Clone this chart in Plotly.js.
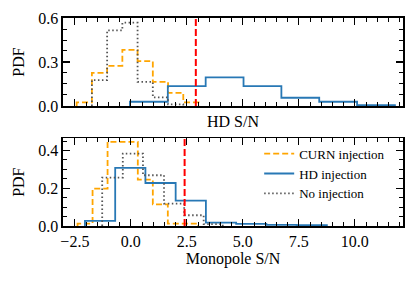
<!DOCTYPE html>
<html>
<head>
<meta charset="utf-8">
<script src="https://cdn.plot.ly/plotly-3.0.1.min.js"></script>
<style>html,body{margin:0;padding:0;background:#fff;}#chart{width:415px;height:283px;}</style>
</head>
<body>
<div id="chart"></div>
<script>
// ---- Top panel: HD S/N ----
const hdCurnEdges = [-2.42, -1.74, -1.06, -0.38, 0.30, 0.98, 1.66, 2.34, 3.02];
const hdCurnPdf   = [0.025, 0.226, 0.274, 0.383, 0.306, 0.165, 0.090, 0.025];
const hdNoEdges   = [-1.74, -1.06, -0.38, 0.30, 0.98, 1.66, 2.34];
const hdNoPdf     = [0.177, 0.516, 0.568, 0.165, 0.059, 0.011];
const hdHdEdges   = [-0.04, 1.65, 3.34, 5.03, 6.72, 8.41, 10.10, 11.79];
const hdHdPdf     = [0.029, 0.136, 0.195, 0.136, 0.056, 0.029, 0.005];
// ---- Bottom panel: Monopole S/N ----
const monoCurnEdges = [-2.38, -1.71, -1.04, -0.36, 0.31, 0.98, 1.65, 2.32, 3.00];
const monoCurnPdf   = [0.013, 0.198, 0.446, 0.446, 0.246, 0.115, 0.013, 0.013];
const monoNoEdges   = [-1.28, -0.36, 0.54, 1.48, 2.38, 3.25, 4.10];
const monoNoPdf     = [0.257, 0.384, 0.269, 0.119, 0.057, 0.010];
const monoHdEdges   = [-2.05, -0.70, 0.65, 2.00, 3.35, 4.70, 6.05, 7.40, 8.75];
const monoHdPdf     = [0.027, 0.308, 0.228, 0.135, 0.018, 0.011, 0.006, 0.004];
// observed S/N (red dashed lines): [HD, Monopole]
const observedSN = [2.9, 2.4];

const seriesNames = ['CURN injection', 'HD injection', 'No injection'];
const colors = {curn: '#FFA500', hd: '#2878B5', no: '#555555'};

function stepXY(edges, vals) {
  const x = [edges[0]], y = [0];
  for (let i = 0; i < vals.length; i++) { x.push(edges[i]); y.push(vals[i]); }
  x.push(edges[edges.length - 1]); y.push(0);
  return {x, y};
}

function hist(edges, vals, name, color, dash, xa, ya, show) {
  const s = stepXY(edges, vals);
  return {
    type: 'scatter', mode: 'lines', x: s.x, y: s.y, name: name,
    xaxis: xa, yaxis: ya, showlegend: show, hoverinfo: 'skip',
    line: {shape: 'hv', color: color, width: 1.8, dash: dash}
  };
}

const dashCurn = '6px,3px';
const dashNo = '1.5px,2.5px';

const traces = [
  hist(hdCurnEdges, hdCurnPdf, seriesNames[0], colors.curn, dashCurn, 'x', 'y', false),
  hist(hdHdEdges, hdHdPdf, seriesNames[1], colors.hd, 'solid', 'x', 'y', false),
  hist(hdNoEdges, hdNoPdf, seriesNames[2], colors.no, dashNo, 'x', 'y', false),
  hist(monoCurnEdges, monoCurnPdf, seriesNames[0], colors.curn, dashCurn, 'x2', 'y2', true),
  hist(monoHdEdges, monoHdPdf, seriesNames[1], colors.hd, 'solid', 'x2', 'y2', true),
  hist(monoNoEdges, monoNoPdf, seriesNames[2], colors.no, dashNo, 'x2', 'y2', true)
];

const font = 'Liberation Serif, Times New Roman, serif';
const xr = [-3.03, 12.15];

function xaxisCfg(extra) {
  return Object.assign({
    range: xr, showgrid: false, zeroline: false, showline: true, linecolor: '#000', linewidth: 1.6,
    mirror: 'allticks', ticks: 'inside', ticklen: 7, tickwidth: 1.2, tickcolor: '#000',
    tick0: 0, dtick: 2.5, tickformat: '.1f',
    minor: {dtick: 0.5, ticks: 'inside', ticklen: 4, tickwidth: 1, tickcolor: '#000', showgrid: false},
    tickfont: {family: font, size: 16, color: '#000'}
  }, extra);
}
function yaxisCfg(extra) {
  return Object.assign({
    showgrid: false, zeroline: false, showline: true, linecolor: '#000', linewidth: 1.6,
    mirror: 'allticks', ticks: 'inside', ticklen: 7, tickwidth: 1.2, tickcolor: '#000',
    tickfont: {family: font, size: 16, color: '#000'}, tickformat: '.1f',
    title: {text: 'PDF', font: {family: font, size: 16, color: '#000'}, standoff: 9}
  }, extra);
}

const layout = {
  width: 415, height: 283,
  margin: {l: 63, r: 12, t: 18, b: 57},
  paper_bgcolor: '#fff', plot_bgcolor: '#fff',
  showlegend: true,
  legend: {
    x: 0.577, y: 0.42, xanchor: 'left', yanchor: 'top',
    bgcolor: 'rgba(0,0,0,0)', borderwidth: 0,
    font: {family: font, size: 13, color: '#000'}, tracegroupgap: 0
  },
  xaxis: xaxisCfg({domain: [0, 1], anchor: 'y', showticklabels: false,
    title: {text: 'HD S/N', font: {family: font, size: 16, color: '#000'}, standoff: 9}}),
  yaxis: yaxisCfg({domain: [0.577, 1], anchor: 'x', range: [0, 0.6], tick0: 0, dtick: 0.3,
    minor: {dtick: 0.075, ticks: 'inside', ticklen: 4, tickwidth: 1, tickcolor: '#000', showgrid: false}}),
  xaxis2: xaxisCfg({domain: [0, 1], anchor: 'y2', matches: 'x',
    title: {text: 'Monopole S/N', font: {family: font, size: 16, color: '#000'}, standoff: 2}}),
  yaxis2: yaxisCfg({domain: [0, 0.4216], anchor: 'x2', range: [0, 0.465], tick0: 0, dtick: 0.2,
    minor: {dtick: 0.05, ticks: 'inside', ticklen: 4, tickwidth: 1, tickcolor: '#000', showgrid: false}}),
  shapes: [
    {type: 'line', xref: 'x', yref: 'y domain', x0: observedSN[0], x1: observedSN[0], y0: 0, y1: 1,
     line: {color: '#FF0000', width: 2, dash: '7px,3px'}},
    {type: 'line', xref: 'x2', yref: 'y2 domain', x0: observedSN[1], x1: observedSN[1], y0: 0, y1: 1,
     line: {color: '#FF0000', width: 2, dash: '7px,3px'}}
  ]
};

Plotly.newPlot('chart', traces, layout, {displayModeBar: false, staticPlot: true});
</script>
</body>
</html>
